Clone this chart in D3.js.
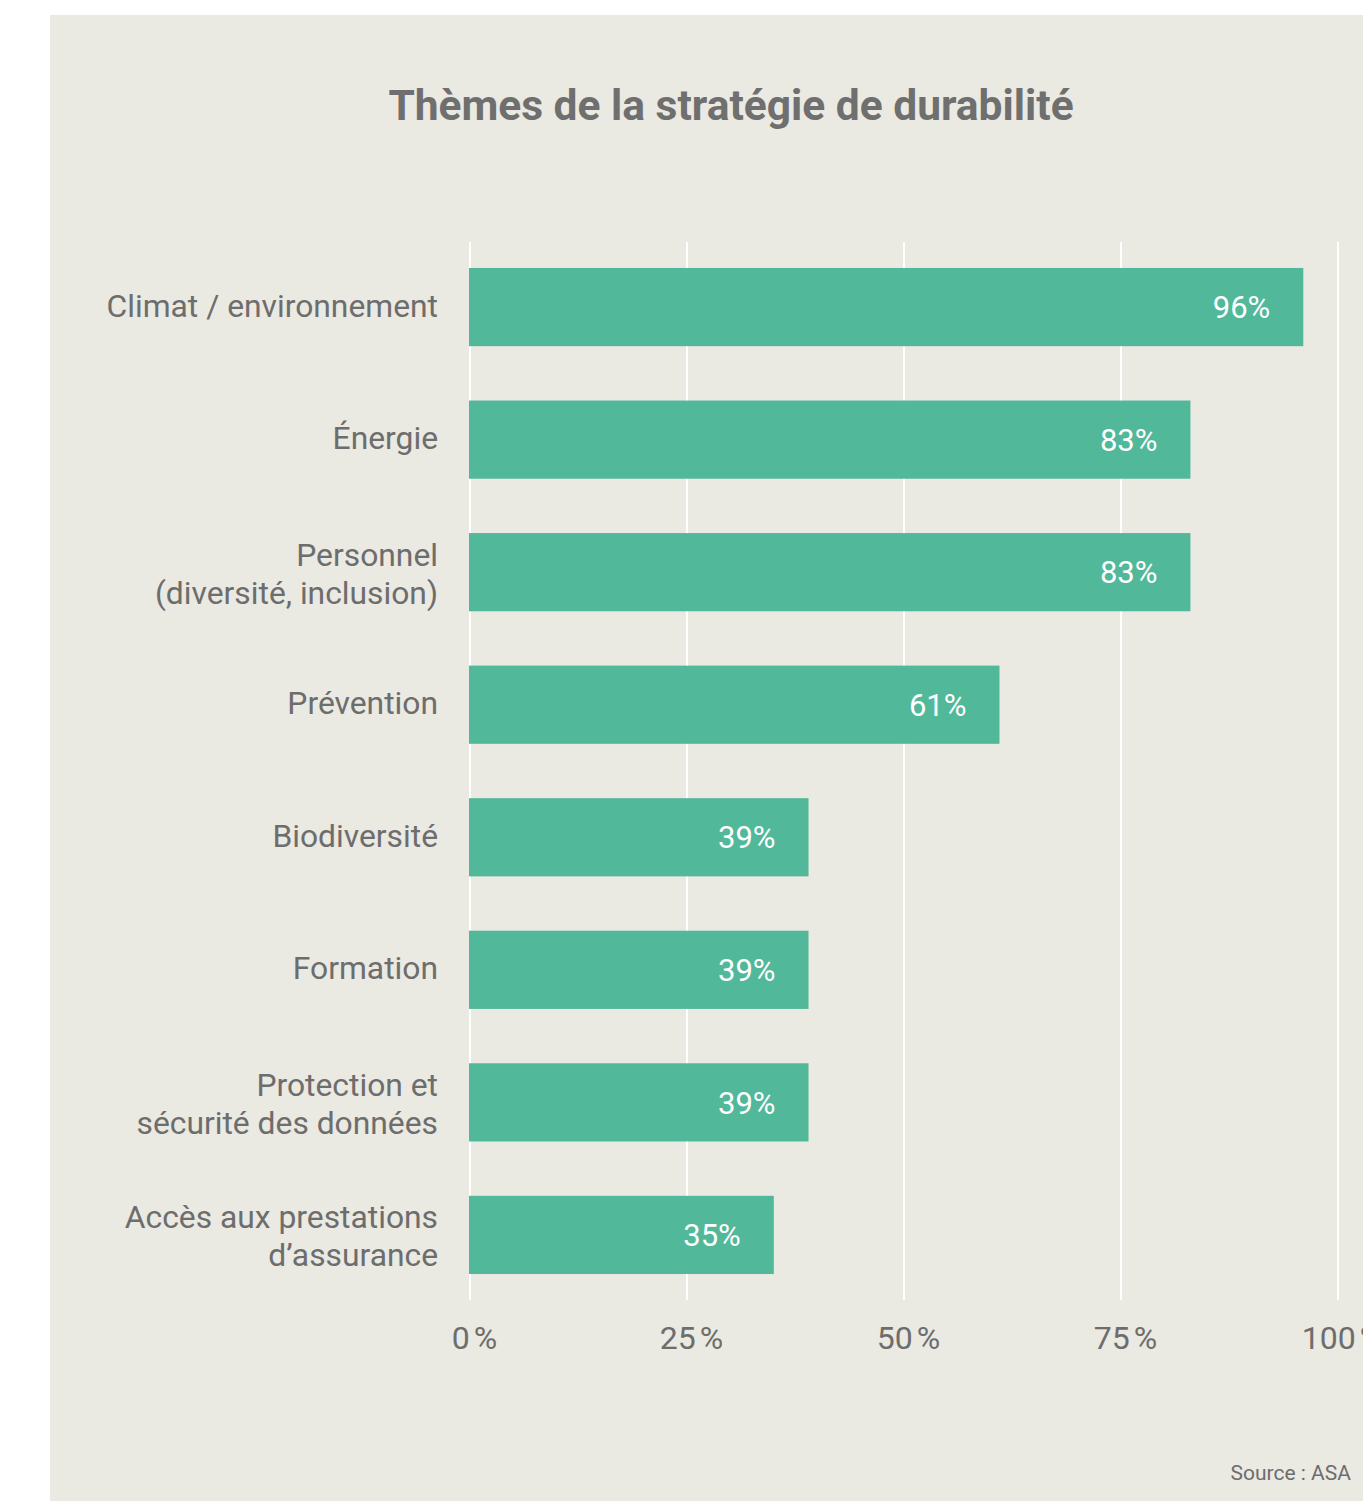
<!DOCTYPE html>
<html>
<head>
<meta charset="utf-8">
<script src="https://cdn.jsdelivr.net/npm/d3@7"></script>
<style>
  html, body { margin: 0; padding: 0; background: #ffffff; }
  svg { display: block; }
</style>
</head>
<body>
<svg id="chart" width="1363" height="1503"></svg>
<script>
// Survey results: share of respondents citing each theme
const categories = [
  "Climat / environnement",
  "Énergie",
  "Personnel\n(diversité, inclusion)",
  "Prévention",
  "Biodiversité",
  "Formation",
  "Protection et\nsécurité des données",
  "Accès aux prestations\nd’assurance"
];
const shares = [0.96, 0.83, 0.83, 0.61, 0.39, 0.39, 0.39, 0.35];
const tickValues = [0, 0.25, 0.5, 0.75, 1];
const tickLabels = ["0\u202f%", "25\u202f%", "50\u202f%", "75\u202f%", "100\u202f%"];
const title = "Thèmes de la stratégie de durabilité";
const source = "Source : ASA";

const svg = d3.select("#chart");
const font = "Roboto, 'Noto Sans', sans-serif";
const textGrey = "#6d6d6d";
const barColour = "#52b89a";

// Panel background
svg.append("rect")
  .attr("x", 50).attr("y", 15)
  .attr("width", 1400).attr("height", 1486)
  .attr("fill", "#eae9e2");

// Title
svg.append("text")
  .attr("x", 731).attr("y", 120)
  .attr("text-anchor", "middle")
  .attr("font-family", font)
  .attr("font-weight", 700)
  .attr("font-size", 42.5)
  .attr("fill", "#6f6f6f")
  .text(title);

const x = d3.scaleLinear().domain([0, 1]).range([470, 1338]);
const y = d3.scaleBand()
  .domain(categories)
  .range([242, 1300])
  .paddingInner(0.41)
  .paddingOuter(0.196);

// Vertical gridlines
svg.append("g")
  .selectAll("line")
  .data(tickValues)
  .join("line")
  .attr("x1", d => x(d)).attr("x2", d => x(d))
  .attr("y1", 242).attr("y2", 1300)
  .attr("stroke", "#ffffff")
  .attr("stroke-width", 2);

// Bars
svg.append("g")
  .selectAll("rect")
  .data(categories)
  .join("rect")
  .attr("x", x(0) - 1)
  .attr("y", d => y(d))
  .attr("width", (d, i) => x(shares[i]) - x(0) + 1)
  .attr("height", y.bandwidth())
  .attr("fill", barColour);

const pct = d3.format(".0%");

// Value labels inside the bars
svg.append("g")
  .selectAll("text")
  .data(categories)
  .join("text")
  .attr("x", (d, i) => x(shares[i]) - 33)
  .attr("y", d => y(d) + y.bandwidth() / 2)
  .attr("dy", "0.36em")
  .attr("text-anchor", "end")
  .attr("font-family", font)
  .attr("font-size", 31)
  .attr("fill", "#ffffff")
  .text((d, i) => pct(shares[i]));

// Category labels, possibly on two lines
const lineGap = 38;
svg.append("g")
  .selectAll("text")
  .data(categories)
  .join("text")
  .attr("text-anchor", "end")
  .attr("font-family", font)
  .attr("font-size", 31.8)
  .attr("fill", textGrey)
  .each(function (d) {
    const lines = d.split("\n");
    const cy = y(d) + y.bandwidth() / 2 + (lines.length > 1 ? 1 : -2);
    const t = d3.select(this);
    lines.forEach((ln, k) => {
      t.append("tspan")
        .attr("x", 438)
        .attr("y", cy + (k - (lines.length - 1) / 2) * lineGap)
        .attr("dy", "0.36em")
        .text(ln);
    });
  });

// Bottom axis tick labels
const axis = d3.axisBottom(x)
  .tickValues(tickValues)
  .tickFormat((d, i) => tickLabels[i])
  .tickSize(0).tickPadding(0);
const axisG = svg.append("g")
  .attr("transform", "translate(0,1337)")
  .call(axis);
axisG.select(".domain").remove();
axisG.selectAll("text")
  .attr("dy", "0.36em")
  .attr("dx", 4)
  .attr("font-family", font)
  .attr("font-size", 32)
  .attr("fill", textGrey);

// Source note
svg.append("text")
  .attr("x", 1351).attr("y", 1480)
  .attr("text-anchor", "end")
  .attr("font-family", font)
  .attr("font-size", 21)
  .attr("fill", textGrey)
  .text(source);
</script>
</body>
</html>
